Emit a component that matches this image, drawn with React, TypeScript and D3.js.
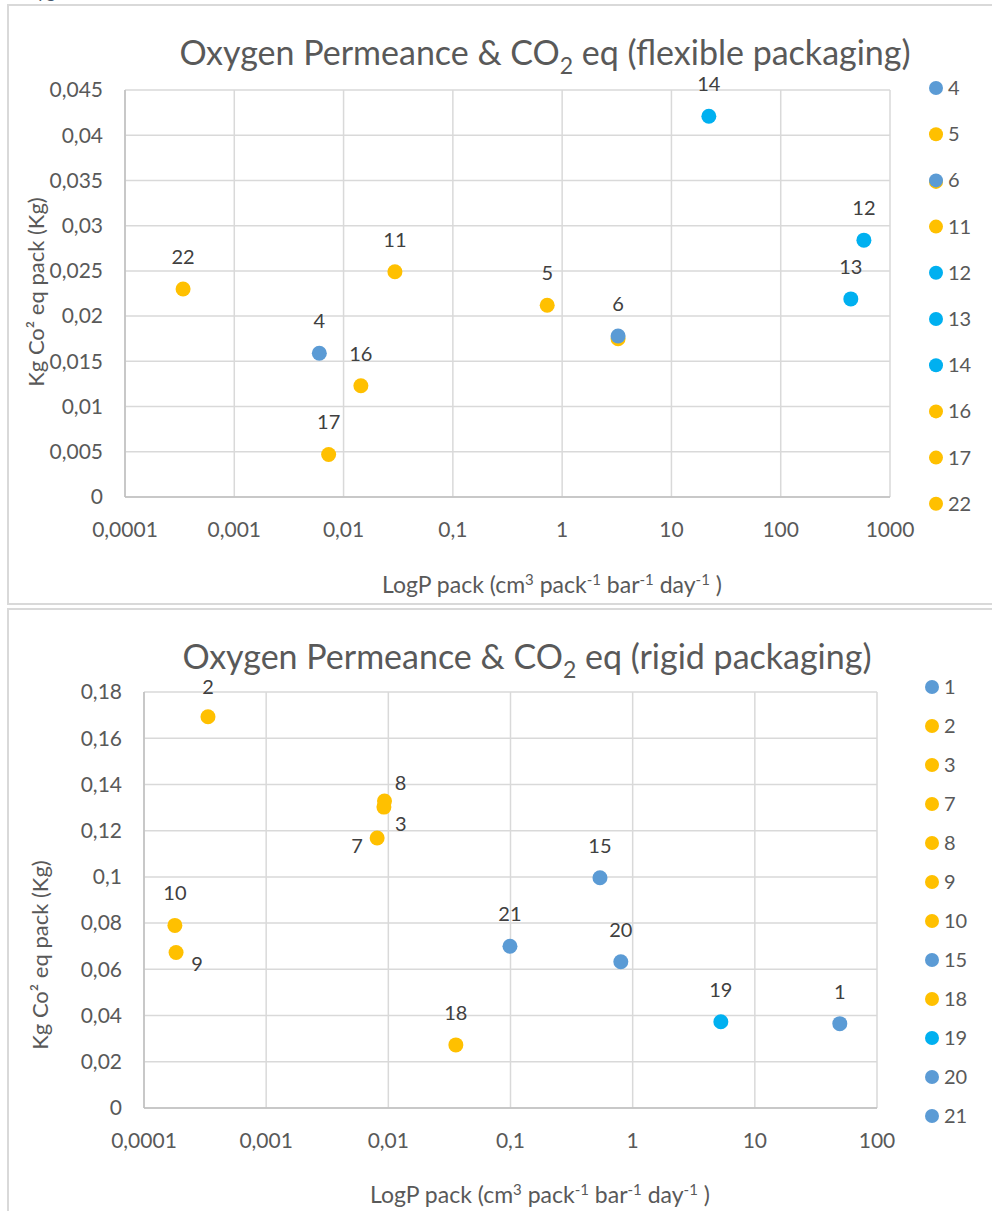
import React from "react";
import * as d3 from "d3";

// flexible packaging series
const flexNames = ["4", "5", "6", "11", "12", "13", "14", "16", "17", "22"];
const flexX = [0.006, 0.73, 3.25, 0.0295, 577, 438, 22, 0.0144, 0.0073, 0.00034];
const flexY = [0.0159, 0.0212, 0.0178, 0.0249, 0.0284, 0.0219, 0.0421, 0.0123, 0.0047, 0.023];
const flexColor = ["blue", "yellow", "blue", "yellow", "cyan", "cyan", "cyan", "yellow", "yellow", "yellow"];
// series "6" has a second (yellow) point drawn under the blue one
const flexUnderNames = ["6"];
const flexUnderX = [3.25];
const flexUnderY = [0.0175];
const flexUnderColor = ["yellow"];
const flexXTicks = [1e-4, 1e-3, 1e-2, 1e-1, 1, 10, 100, 1000];
const flexXTickLabels = ["0,0001", "0,001", "0,01", "0,1", "1", "10", "100", "1000"];
const flexYTicks = [0, 0.005, 0.01, 0.015, 0.02, 0.025, 0.03, 0.035, 0.04, 0.045];

// rigid packaging series
const rigidNames = ["1", "2", "3", "7", "8", "9", "10", "15", "18", "19", "20", "21"];
const rigidX = [49.6, 0.000334, 0.0092, 0.0081, 0.0093, 0.000183, 0.000179, 0.54, 0.0357, 5.27, 0.8, 0.099];
const rigidY = [0.0365, 0.1693, 0.1302, 0.1168, 0.1328, 0.0673, 0.079, 0.0996, 0.0273, 0.0373, 0.0633, 0.07];
const rigidColor = ["blue", "yellow", "yellow", "yellow", "yellow", "yellow", "yellow", "blue", "yellow", "cyan", "blue", "blue"];
const rigidXTicks = [1e-4, 1e-3, 1e-2, 1e-1, 1, 10, 100];
const rigidXTickLabels = ["0,0001", "0,001", "0,01", "0,1", "1", "10", "100"];
const rigidYTicks = [0, 0.02, 0.04, 0.06, 0.08, 0.1, 0.12, 0.14, 0.16, 0.18];

const palette: Record<string, string> = {
  blue: "#5b9bd5",
  yellow: "#ffc000",
  cyan: "#00b0f0",
};

// manual label nudges (default: label above the point)
const rigidLabelNudge: Record<string, [number, number]> = {
  "2": [0, -30],
  "8": [16, -18],
  "3": [17, 17],
  "7": [-20, 8],
  "9": [21, 12],
};

const FONT = "Lato, 'Open Sans', sans-serif";
const TXT = "#595959";

const fmt = (v: number) => String(+v.toFixed(4)).replace(".", ",");

type ChartProps = {
  top: number;
  bottom: number;
  left: number;
  right: number;
  xDomain: [number, number];
  yDomain: [number, number];
  xTicks: number[];
  xTickLabels: string[];
  yTicks: number[];
  names: string[];
  xs: number[];
  ys: number[];
  colors: string[];
  under?: { names: string[]; xs: number[]; ys: number[]; colors: string[] };
  nudge?: Record<string, [number, number]>;
  subtitle: string;
  titleX: number;
  titleY: number;
  yTitleX: number;
  yTitleY: number;
  xTitleX: number;
  xTitleY: number;
  legendX: number;
  legendY: number;
  legendStep: number;
};

const Chart = (p: ChartProps) => {
  const x = d3.scaleLog().domain(p.xDomain).range([p.left, p.right]);
  const y = d3.scaleLinear().domain(p.yDomain).range([p.bottom, p.top]);
  const r = 7.5;

  return (
    <g fontFamily={FONT}>
      {/* gridlines */}
      {p.yTicks.map((t) => (
        <line key={"gy" + t} x1={p.left} x2={p.right} y1={y(t)} y2={y(t)} stroke="#d9d9d9" strokeWidth={1.5} />
      ))}
      {p.xTicks.map((t) => (
        <line key={"gx" + t} x1={x(t)} x2={x(t)} y1={p.top} y2={p.bottom} stroke="#d9d9d9" strokeWidth={1.5} />
      ))}
      {/* axis lines */}
      <line x1={p.left} x2={p.left} y1={p.top} y2={p.bottom} stroke="#bfbfbf" strokeWidth={1.5} />
      <line x1={p.left} x2={p.right} y1={p.bottom} y2={p.bottom} stroke="#bfbfbf" strokeWidth={1.5} />

      {/* tick labels */}
      {p.yTicks.map((t) => (
        <text key={"ly" + t} x={p.left - 22} y={y(t)} dy="0.35em" textAnchor="end" fontSize={21} fill={TXT}>
          {fmt(t)}
        </text>
      ))}
      {p.xTicks.map((t, i) => (
        <text key={"lx" + t} x={x(t)} y={p.bottom + 33} dy="0.35em" textAnchor="middle" fontSize={21} fill={TXT}>
          {p.xTickLabels[i]}
        </text>
      ))}

      {/* title */}
      <text x={p.titleX} y={p.titleY} textAnchor="middle" fontSize={34} fill={TXT}>
        Oxygen Permeance &amp; CO<tspan fontSize={23} dy={9}>2</tspan>
        <tspan dy={-9}> eq ({p.subtitle})</tspan>
      </text>

      {/* axis titles */}
      <text
        transform={`translate(${p.yTitleX},${p.yTitleY}) rotate(-90)`}
        textAnchor="middle"
        dy="0.35em"
        fontSize={22}
        fill={TXT}
      >
        Kg Co² eq pack (Kg)
      </text>
      <text x={p.xTitleX} y={p.xTitleY} dy="0.35em" textAnchor="middle" fontSize={23} fill={TXT}>
        LogP pack (cm<tspan fontSize={15} dy={-8}>3</tspan>
        <tspan dy={8}> pack</tspan>
        <tspan fontSize={15} dy={-8}>-1</tspan>
        <tspan dy={8}> bar</tspan>
        <tspan fontSize={15} dy={-8}>-1</tspan>
        <tspan dy={8}> day</tspan>
        <tspan fontSize={15} dy={-8}>-1</tspan>
        <tspan dy={8}> )</tspan>
      </text>

      {/* points */}
      {p.under &&
        p.under.names.map((n, i) => (
          <circle key={"u" + n} cx={x(p.under!.xs[i])} cy={y(p.under!.ys[i])} r={r} fill={palette[p.under!.colors[i]]} />
        ))}
      {p.names.map((n, i) => (
        <circle key={"p" + n} cx={x(p.xs[i])} cy={y(p.ys[i])} r={r} fill={palette[p.colors[i]]} />
      ))}
      {p.names.map((n, i) => {
        const d = (p.nudge && p.nudge[n]) || [0, -32];
        return (
          <text
            key={"t" + n}
            x={x(p.xs[i]) + d[0]}
            y={y(p.ys[i]) + d[1]}
            dy="0.35em"
            textAnchor="middle"
            fontSize={20}
            fill="#404040"
          >
            {n}
          </text>
        );
      })}

      {/* legend */}
      {p.names.map((n, i) => {
        const ly = p.legendY + i * p.legendStep;
        const u = p.under ? p.under.names.indexOf(n) : -1;
        return (
          <g key={"lg" + n}>
            {u >= 0 && <circle cx={p.legendX} cy={ly + 1.5} r={7} fill={palette[p.under!.colors[u]]} />}
            <circle cx={p.legendX} cy={ly} r={7} fill={palette[p.colors[i]]} />
            <text x={p.legendX + 12} y={ly} dy="0.35em" fontSize={20} fill={TXT}>
              {n}
            </text>
          </g>
        );
      })}
    </g>
  );
};

export default function App() {
  return (
    <div style={{ position: "absolute", left: 0, top: 0 }}>
      <svg width={992} height={1211} style={{ display: "block", background: "#fff" }}>
        {/* cut-off caption fragment at top */}
        <text x={14} y={-2} fontFamily={FONT} fontSize={18} fill="#44546a">
          Oxygen
        </text>
        {/* frames */}
        <rect x={8} y={5} width={1000} height={599} fill="none" stroke="#d9d9d9" strokeWidth={2} />
        <rect x={8} y={609} width={1000} height={700} fill="none" stroke="#d9d9d9" strokeWidth={2} />

        <Chart
          top={90}
          bottom={497}
          left={125}
          right={890}
          xDomain={[1e-4, 1e3]}
          yDomain={[0, 0.045]}
          xTicks={flexXTicks}
          xTickLabels={flexXTickLabels}
          yTicks={flexYTicks}
          names={flexNames}
          xs={flexX}
          ys={flexY}
          colors={flexColor}
          under={{ names: flexUnderNames, xs: flexUnderX, ys: flexUnderY, colors: flexUnderColor }}
          subtitle="flexible packaging"
          titleX={545}
          titleY={65}
          yTitleX={36}
          yTitleY={292}
          xTitleX={552}
          xTitleY={585}
          legendX={936}
          legendY={88}
          legendStep={46.2}
        />
        <Chart
          top={692}
          bottom={1108}
          left={144}
          right={877}
          xDomain={[1e-4, 100]}
          yDomain={[0, 0.18]}
          xTicks={rigidXTicks}
          xTickLabels={rigidXTickLabels}
          yTicks={rigidYTicks}
          names={rigidNames}
          xs={rigidX}
          ys={rigidY}
          colors={rigidColor}
          nudge={rigidLabelNudge}
          subtitle="rigid packaging"
          titleX={527}
          titleY={669}
          yTitleX={40}
          yTitleY={955}
          xTitleX={540}
          xTitleY={1195}
          legendX={932}
          legendY={687}
          legendStep={39}
        />
      </svg>
    </div>
  );
}
